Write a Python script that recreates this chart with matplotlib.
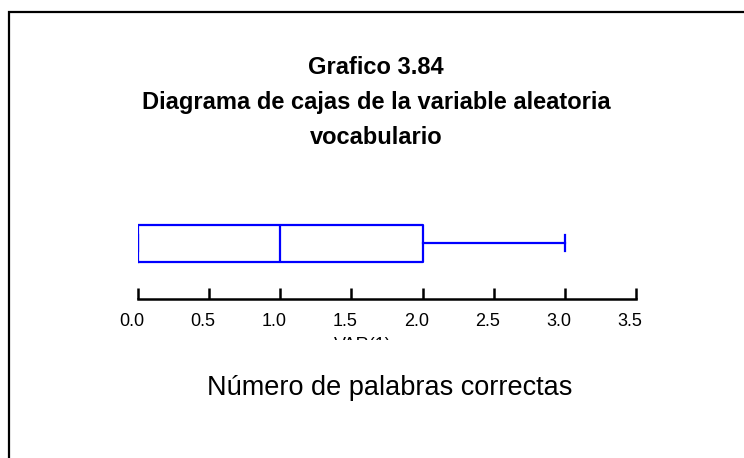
import matplotlib.pyplot as plt
from matplotlib.patches import Rectangle
from matplotlib.transforms import ScaledTranslation

plt.rcParams['font.family'] = ['Liberation Sans', 'DejaVu Sans']

# five-number summary of the vocabulary score
stat_names = ["whislo", "q1", "med", "q3", "whishi"]
stat_values = [0.0, 0.0, 1.0, 2.0, 3.0]
tick_values = [0.0, 0.5, 1.0, 1.5, 2.0, 2.5, 3.0, 3.5]
tick_labels = ["0.0", "0.5", "1.0", "1.5", "2.0", "2.5", "3.0", "3.5"]

W, H = 744, 458
fig = plt.figure(figsize=(W / 100, H / 100), dpi=100)

# outer frame, open at right and bottom
fig.patches.append(Rectangle((9 / W, -0.1), 1.2, 1.1 - 12 / H, transform=fig.transFigure,
                             fill=False, edgecolor='black', linewidth=1.6))

for txt, y in [("Grafico 3.84", 68), ("Diagrama de cajas de la variable aleatoria", 103),
               ("vocabulario", 138)]:
    fig.text(376 / W, 1 - y / H, txt, ha='center', va='center', fontsize=17, fontweight='bold')

ax = fig.add_axes([138 / W, 1 - 299 / H, 498 / W, 89 / H])
stats = dict(zip(stat_names, stat_values))
blue = (0, 0, 1)
line = dict(color=blue, linewidth=1.6)
ax.bxp([stats], positions=[0.629], widths=0.416, capwidths=0.18, orientation='horizontal',
       showfliers=False, boxprops=line, whiskerprops=line, capprops=line, medianprops=line)
ax.set_xlim(0, 3.5)
ax.set_ylim(0, 1)
ax.set_xticks(tick_values, tick_labels, fontsize=13)
ax.set_yticks([])
for s in ['top', 'left', 'right']:
    ax.spines[s].set_visible(False)
ax.spines['bottom'].set_linewidth(1.8)
ax.tick_params(axis='x', direction='in', length=8, width=1.8, pad=10)
shift = ScaledTranslation(-6 / 100, 0, fig.dpi_scale_trans)
for lab in ax.get_xticklabels():
    lab.set_transform(lab.get_transform() + shift)

# variable name, cut off below
fig.text(363 / W, 1 - 337 / H, "VAR(1)", ha='center', va='top', fontsize=13)
fig.patches.append(Rectangle((300 / W, 1 - 365 / H), 150 / W, 25 / H, transform=fig.transFigure,
                             facecolor='white', edgecolor='none', zorder=5))

fig.text(390 / W, 1 - 388 / H, "Número de palabras correctas", ha='center', va='center',
         fontsize=19.5)

fig.savefig("out.png", dpi=100)
